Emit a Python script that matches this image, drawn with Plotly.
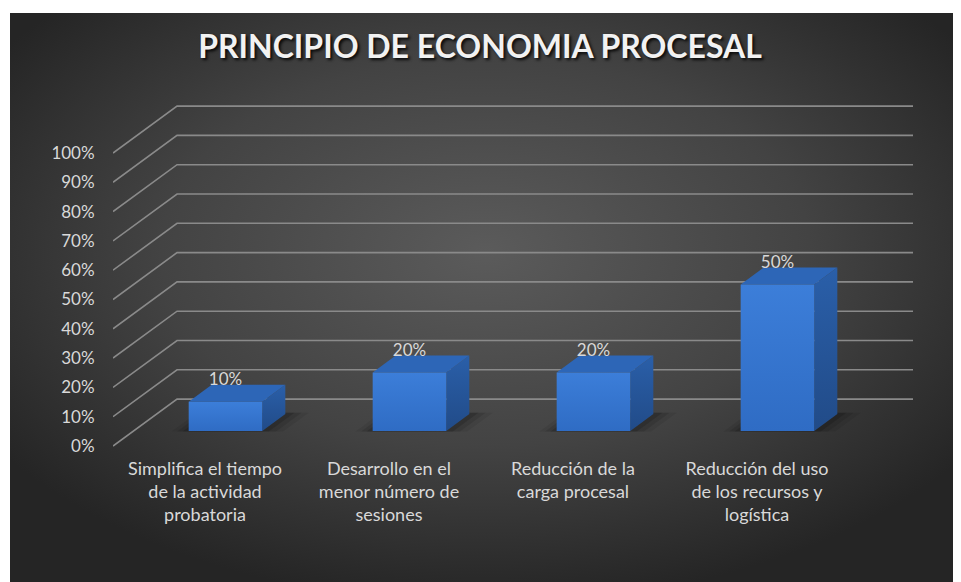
import base64
import plotly.graph_objects as go

# ---------------- data ----------------
title_text = "PRINCIPIO DE ECONOMIA PROCESAL"
categories = [
    "Simplifica el tiempo<br>de la actividad<br>probatoria",
    "Desarrollo en el<br>menor número de<br>sesiones",
    "Reducción de la<br>carga procesal",
    "Reducción del uso<br>de los recursos y<br>logística",
]
values = [10, 20, 20, 50]
value_labels = ["10%", "20%", "20%", "50%"]
tick_values = [0, 10, 20, 30, 40, 50, 60, 70, 80, 90, 100]
tick_labels = ["0%", "10%", "20%", "30%", "40%", "50%", "60%", "70%", "80%", "90%", "100%"]

# ---------------- pseudo-3D projection parameters ----------------
DX, DY = 0.348, 16.0      # full depth offset (category units, percent units)
T0, T1 = 0.32, 0.68       # bar front / back depth fractions
HW = 0.2                  # half bar width (gap width 150%)
n = len(values)
x_lo, x_hi = -0.5, n - 0.5


def proj(x, y, t):
    return x + t * DX, y + t * DY


fig = go.Figure()

# ---------------- gridlines (wall + back) ----------------
gx, gy = [], []
for v in tick_values:
    p0 = proj(x_lo, v, 0)
    p1 = proj(x_lo, v, 1)
    p2 = proj(x_hi, v, 1)
    gx += [p0[0], p1[0], p2[0], None]
    gy += [p0[1], p1[1], p2[1], None]
fig.add_trace(go.Scatter(x=gx, y=gy, mode="lines",
                         line=dict(color="#8a8a8a", width=1.6),
                         hoverinfo="skip", showlegend=False))

# ---------------- soft shadows ----------------
for k, alpha in enumerate([0.07, 0.10, 0.14]):
    grow = 0.09 - k * 0.03
    for i, v in enumerate(values):
        xs, ys = [], []
        for (xx, tt) in [(i - HW - grow, T0 - 0.01), (i + HW + grow * 1.3, T0 - 0.01),
                         (i + HW + grow * 1.3, T1 + 0.03), (i - HW - grow, T1 + 0.03)]:
            a, b = proj(xx, 0, tt)
            xs.append(a)
            ys.append(b)
        xs.append(xs[0]); ys.append(ys[0])
        fig.add_trace(go.Scatter(x=xs, y=ys, mode="lines", fill="toself",
                                 fillcolor=f"rgba(0,0,0,{alpha})",
                                 line=dict(width=0), hoverinfo="skip", showlegend=False))

# ---------------- bars ----------------
for i, v in enumerate(values):
    xl, xr = i - HW, i + HW
    # side face
    pts = [proj(xr, 0, T0), proj(xr, 0, T1), proj(xr, v, T1), proj(xr, v, T0)]
    fig.add_trace(go.Scatter(x=[p[0] for p in pts] + [pts[0][0]],
                             y=[p[1] for p in pts] + [pts[0][1]],
                             mode="lines", fill="toself",
                             fillgradient=dict(type="vertical",
                                               colorscale=[[0, "#214b88"], [1, "#2a5fa9"]]),
                             line=dict(width=0), hoverinfo="skip", showlegend=False))
    # top face
    pts = [proj(xl, v, T0), proj(xr, v, T0), proj(xr, v, T1), proj(xl, v, T1)]
    fig.add_trace(go.Scatter(x=[p[0] for p in pts] + [pts[0][0]],
                             y=[p[1] for p in pts] + [pts[0][1]],
                             mode="lines", fill="toself", fillcolor="#2d66b7",
                             line=dict(width=0), hoverinfo="skip", showlegend=False))
    # front face
    pts = [proj(xl, 0, T0), proj(xr, 0, T0), proj(xr, v, T0), proj(xl, v, T0)]
    fig.add_trace(go.Scatter(x=[p[0] for p in pts] + [pts[0][0]],
                             y=[p[1] for p in pts] + [pts[0][1]],
                             mode="lines", fill="toself",
                             fillgradient=dict(type="vertical",
                                               colorscale=[[0, "#2f6cc4"], [1, "#3c7ed9"]]),
                             line=dict(width=0), hoverinfo="skip", showlegend=False))

# ---------------- data labels ----------------
lx = [proj(i, v, T0)[0] for i, v in enumerate(values)]
ly = [proj(i, v, T0)[1] + 7.2 for i, v in enumerate(values)]
fig.add_trace(go.Scatter(x=lx, y=ly, mode="text", text=value_labels,
                         textposition="middle center",
                         textfont=dict(family="Lato", size=17, color="#d9d9d9"),
                         hoverinfo="skip", showlegend=False))

# ---------------- layout geometry (figure sits 8px into the page) ----------------
OFF = 8
L, R, T, B = 113 - OFF, 48 + OFF, 94 - OFF, 132 + OFF
pw, ph = 961 - L - R, 582 - T - B

# background (radial gradient), page area x 10..961, y 13..582
W, H = 951, 569
svg = (f'<svg xmlns="http://www.w3.org/2000/svg" width="{W}" height="{H}" '
       f'viewBox="0 0 {W} {H}" preserveAspectRatio="none">'
       '<defs><radialGradient id="g" cx="50%" cy="42%" r="62%">'
       '<stop offset="0" stop-color="#5b5b5b"/>'
       '<stop offset="0.55" stop-color="#434343"/>'
       '<stop offset="1" stop-color="#252525"/>'
       '</radialGradient></defs>'
       f'<rect width="{W}" height="{H}" fill="url(#g)"/></svg>')
src = "data:image/svg+xml;base64," + base64.b64encode(svg.encode()).decode()
fig.add_layout_image(dict(source=src, xref="paper", yref="paper",
                          x=(10 - OFF - L) / pw, y=(582 - B - (13 - OFF)) / ph,
                          sizex=W / pw, sizey=H / ph,
                          xanchor="left", yanchor="top", sizing="stretch",
                          layer="below"))

# y-scale so that 1 unit = 2.93 px and 0 sits at page pixel 446
ppu = 2.93
y0_px = (446 - OFF) - T
y_top = y0_px / ppu
y_bot = -(ph - y0_px) / ppu

fig.update_layout(
    width=961, height=582,
    margin=dict(l=L, r=R, t=T, b=B, autoexpand=False),
    paper_bgcolor="white",
    plot_bgcolor="rgba(0,0,0,0)",
    title=dict(text=title_text, x=(480 - OFF) / 961, xref="container", xanchor="center",
               y=1 - (47 - OFF) / 582, yref="container", yanchor="middle",
               font=dict(family="Lato", size=32, color="#f2f2f2", weight="bold",
                         shadow="2px 2px 3px rgba(0,0,0,0.85)")),
    xaxis=dict(range=[x_lo, x_hi + DX], tickmode="array",
               tickvals=list(range(n)), ticktext=categories,
               showgrid=False, zeroline=False, showline=False,
               ticks="outside", ticklen=2, tickcolor="rgba(0,0,0,0)",
               tickfont=dict(family="Lato", size=18, color="#d9d9d9"),
               fixedrange=True, automargin=False),
    yaxis=dict(range=[y_bot, y_top], tickmode="array",
               tickvals=tick_values, ticktext=tick_labels,
               showgrid=False, zeroline=False, showline=False,
               ticks="outside", ticklen=14, tickcolor="rgba(0,0,0,0)",
               tickfont=dict(family="Lato", size=17, color="#d9d9d9"),
               fixedrange=True, automargin=False),
    showlegend=False,
)

fig.write_html("out.html")
